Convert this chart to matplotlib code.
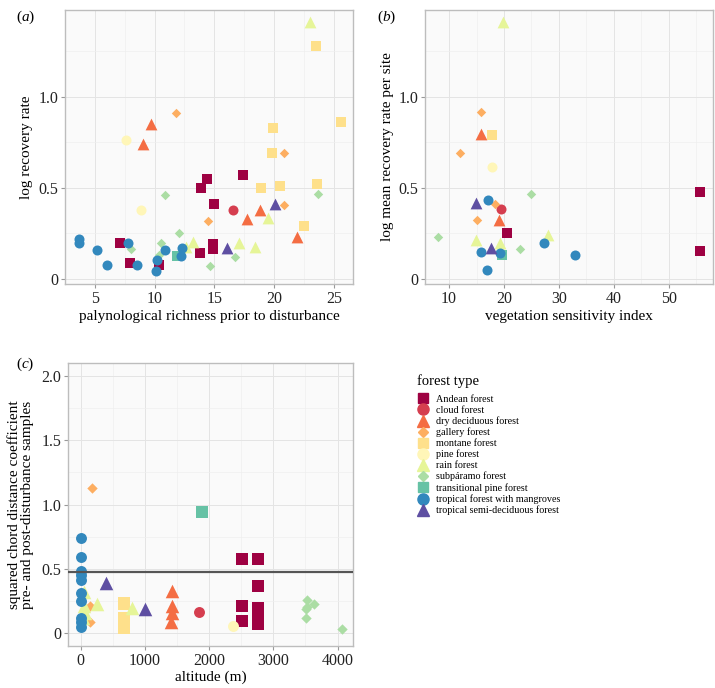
# Forest recovery figure: three scatter panels sharing one legend

import matplotlib
matplotlib.use('Agg')
import matplotlib.pyplot as plt
from matplotlib.lines import Line2D
from matplotlib.ticker import MultipleLocator

plt.rcParams['font.family'] = ['Liberation Serif', 'DejaVu Serif']
plt.rcParams['mathtext.fontset'] = 'custom'
plt.rcParams['mathtext.it'] = 'Liberation Serif:italic'
plt.rcParams['mathtext.rm'] = 'Liberation Serif'

# forest types, colours (Spectral) and ggplot shapes
forest_types = ['Andean forest', 'cloud forest', 'dry deciduous forest', 'gallery forest',
                'montane forest', 'pine forest', 'rain forest', 'subpáramo forest',
                'transitional pine forest', 'tropical forest with mangroves',
                'tropical semi-deciduous forest']
colors = ['#9E0142', '#D53E4F', '#F46D43', '#FDAE61', '#FEE08B', '#FFF6B8',
          '#E6F598', '#ABDDA4', '#66C2A5', '#3288BD', '#5E4FA2']
markers = ['s', 'o', '^', 'D'] * 3

# panel (a): palynological richness vs log recovery rate
a_type = [0]*10 + [1] + [2]*5 + [3]*4 + [4]*8 + [5]*2 + [6]*6 + [7]*8 + [8] + [9]*11 + [10]*2
a_x = [7.1, 7.9, 10.4, 13.9, 14.4, 13.8, 14.95, 14.9, 14.9, 17.4,
       16.6,
       9.7, 9.05, 17.7, 18.8, 21.9,
       11.8, 14.5, 20.8, 20.8,
       23.5, 19.9, 19.8, 20.5, 18.9, 23.6, 25.6, 22.5,
       7.6, 8.9,
       23.0, 19.5, 17.1, 18.4, 13.25, 12.6,
       10.9, 12.0, 10.5, 8.0, 10.4, 14.6, 16.7, 23.7,
       11.9,
       3.65, 3.65, 5.2, 6.0, 7.8, 8.55, 10.2, 10.1, 10.85, 12.3, 12.2,
       16.05, 20.1]
a_y = [0.20, 0.087, 0.075, 0.50, 0.55, 0.143, 0.41, 0.19, 0.166, 0.57,
       0.38,
       0.85, 0.74, 0.33, 0.38, 0.23,
       0.91, 0.32, 0.69, 0.405,
       1.28, 0.83, 0.69, 0.51, 0.50, 0.52, 0.86, 0.29,
       0.765, 0.378,
       1.41, 0.337, 0.195, 0.176, 0.204, 0.176,
       0.46, 0.255, 0.20, 0.164, 0.13, 0.073, 0.123, 0.465,
       0.127,
       0.218, 0.20, 0.157, 0.077, 0.195, 0.074, 0.104, 0.041, 0.157, 0.172, 0.125,
       0.168, 0.41]

# panel (b): vegetation sensitivity index vs log mean recovery rate per site
b_type = [0]*3 + [1] + [2]*2 + [3]*4 + [4] + [5] + [6]*4 + [7]*3 + [8] + [9]*6 + [10]*2
b_x = [55.7, 55.7, 20.5,
       19.5,
       15.9, 19.1,
       15.8, 12.06, 18.4, 15.0,
       17.9,
       17.9,
       19.8, 14.85, 19.2, 28.1,
       8.06, 24.85, 22.85,
       19.7,
       17.15, 15.9, 19.2, 16.85, 27.3, 33.0,
       14.85, 17.6]
b_y = [0.475, 0.151, 0.25,
       0.385,
       0.796, 0.324,
       0.915, 0.693, 0.41, 0.324,
       0.79,
       0.615,
       1.41, 0.215, 0.196, 0.242,
       0.231, 0.469, 0.165,
       0.129,
       0.433, 0.147, 0.145, 0.047, 0.196, 0.133,
       0.418, 0.169]

# panel (c): altitude vs squared chord distance
c_type = [0]*10 + [1] + [2]*4 + [3]*3 + [4]*5 + [5] + [6]*6 + [7]*6 + [8] + [9]*10 + [10]*2
c_x = [2505, 2505, 2505, 2765, 2765, 2765, 2765, 2765, 2765, 2765,
       1850,
       1420, 1420, 1420, 1410,
       180, 150, 150,
       680, 680, 680, 680, 680,
       2370,
       50, 260, 50, 70, 40, 800,
       3520, 3630, 3510, 3530, 3510, 4070,
       1895,
       10, 10, 10, 10, 10, 10, 10, 10, 10, 10,
       400, 1005]
c_y = [0.58, 0.212, 0.096, 0.58, 0.363, 0.195, 0.155, 0.115, 0.075, 0.07,
       0.163,
       0.324, 0.212, 0.155, 0.09,
       1.13, 0.215, 0.083,
       0.235, 0.225, 0.115, 0.075, 0.04,
       0.057,
       0.32, 0.228, 0.21, 0.16, 0.12, 0.195,
       0.255, 0.225, 0.19, 0.205, 0.12, 0.035,
       0.94,
       0.74, 0.59, 0.48, 0.45, 0.41, 0.31, 0.25, 0.12, 0.09, 0.045,
       0.39, 0.187]
c_threshold = 0.479

small_sizes = {'s': 44, 'o': 52, '^': 72, 'D': 23}
big_sizes = {'s': 64, 'o': 62, '^': 95, 'D': 28}


def style_axes(ax):
    ax.set_facecolor('#fafafa')
    for s in ax.spines.values():
        s.set_color('#bdbdbd')
        s.set_linewidth(1.0)
    ax.grid(True, which='major', color='#e4e4e4', linewidth=0.7)
    ax.grid(True, which='minor', color='#efefef', linewidth=0.5)
    ax.set_axisbelow(True)
    ax.tick_params(which='major', length=3, color='#999999', labelsize=11.5,
                   labelcolor='#222222', pad=2)
    ax.tick_params(which='minor', length=0)


def draw_points(ax, types, xs, ys, sizes):
    for k in range(len(forest_types)):
        px = [x for t, x in zip(types, xs) if t == k]
        py = [y for t, y in zip(types, ys) if t == k]
        ax.scatter(px, py, marker=markers[k], s=sizes[markers[k]],
                   color=colors[k], linewidths=0, zorder=3)


fig = plt.figure(figsize=(7.15, 6.88), dpi=100)

# (a)
ax_a = fig.add_axes([0.0909, 0.5872, 0.4028, 0.3983])
style_axes(ax_a)
draw_points(ax_a, a_type, a_x, a_y, small_sizes)
ax_a.set_xlim(2.5, 26.6)
ax_a.set_ylim(-0.028, 1.478)
ax_a.xaxis.set_major_locator(MultipleLocator(5))
ax_a.xaxis.set_minor_locator(MultipleLocator(2.5))
ax_a.set_yticks([0, 0.5, 1.0])
ax_a.set_yticklabels(['0', '0.5', '1.0'])
ax_a.yaxis.set_minor_locator(MultipleLocator(0.25))
ax_a.set_xlabel('palynological richness prior to disturbance', fontsize=11, labelpad=2)
ax_a.set_ylabel('log recovery rate', fontsize=11, labelpad=4)

# (b)
ax_b = fig.add_axes([0.5944, 0.5872, 0.4028, 0.3983])
style_axes(ax_b)
draw_points(ax_b, b_type, b_x, b_y, small_sizes)
ax_b.set_xlim(5.6, 58.1)
ax_b.set_ylim(-0.028, 1.478)
ax_b.xaxis.set_major_locator(MultipleLocator(10))
ax_b.xaxis.set_minor_locator(MultipleLocator(5))
ax_b.set_yticks([0, 0.5, 1.0])
ax_b.set_yticklabels(['0', '0.5', '1.0'])
ax_b.yaxis.set_minor_locator(MultipleLocator(0.25))
ax_b.set_xlabel('vegetation sensitivity index', fontsize=11, labelpad=2)
ax_b.set_ylabel('log mean recovery rate per site', fontsize=11, labelpad=3)

# (c)
ax_c = fig.add_axes([0.0951, 0.0610, 0.3986, 0.4113])
style_axes(ax_c)
draw_points(ax_c, c_type, c_x, c_y, big_sizes)
ax_c.axhline(c_threshold, color='#555555', linewidth=1.6, zorder=4)
ax_c.set_xlim(-195, 4240)
ax_c.set_ylim(-0.1, 2.1)
ax_c.xaxis.set_major_locator(MultipleLocator(1000))
ax_c.xaxis.set_minor_locator(MultipleLocator(500))
ax_c.set_yticks([0, 0.5, 1.0, 1.5, 2.0])
ax_c.set_yticklabels(['0', '0.5', '1.0', '1.5', '2.0'])
ax_c.yaxis.set_minor_locator(MultipleLocator(0.25))
ax_c.set_xlabel('altitude (m)', fontsize=11, labelpad=1)
ax_c.set_ylabel('squared chord distance coefficient\npre- and post-disturbance samples',
                fontsize=11, labelpad=5, linespacing=1.05)

# panel letters
fig.text(0.022, 0.988, r'($\mathit{a}$)', fontsize=11, va='top')
fig.text(0.527, 0.988, r'($\mathit{b}$)', fontsize=11, va='top')
fig.text(0.022, 0.483, r'($\mathit{c}$)', fontsize=11, va='top')

# legend
handles = [Line2D([], [], linestyle='none', marker=markers[k], color=colors[k],
                  markersize={'s': 7.5, 'o': 8, '^': 9, 'D': 5}[markers[k]])
           for k in range(len(forest_types))]
leg = fig.legend(handles, forest_types, loc='upper left', bbox_to_anchor=(0.578, 0.462),
                 frameon=False, fontsize=7.3, title='forest type', title_fontsize=10.5,
                 labelspacing=0.16, handletextpad=0.6, handlelength=1.2,
                 borderaxespad=0)
leg._legend_box.align = 'left'
leg._legend_box.sep = 5

fig.savefig('out.png', dpi=100)
